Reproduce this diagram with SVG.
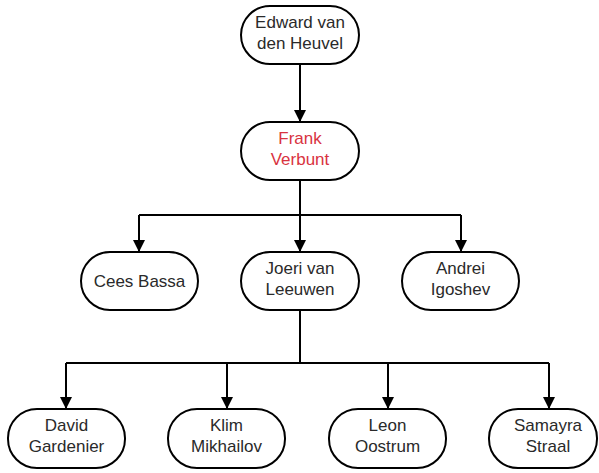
<svg xmlns="http://www.w3.org/2000/svg" width="599" height="473" viewBox="0 0 599 473">
<style>
.box{fill:#fff;stroke:#000;stroke-width:2}
.t{font-family:"Liberation Sans",Arial,sans-serif;font-size:17px;fill:#2a2a2a;text-anchor:middle}
.red{fill:#d9333f}
.c{fill:none;stroke:#000;stroke-width:2}
</style>
<defs>
<marker id="ah" markerWidth="12" markerHeight="14" refX="11" refY="6" orient="auto" markerUnits="userSpaceOnUse" viewBox="0 0 12 12">
<path d="M0,0 L12,6 L0,12 Z" fill="#000"/>
</marker>
</defs>
<rect width="599" height="473" fill="#fff"/>
<g id="connectors">
<path class="c" d="M300,64 V121" marker-end="url(#ah)"/>
<path class="c" d="M300,180 V251" marker-end="url(#ah)"/>
<path class="c" d="M139,215 H461"/>
<path class="c" d="M139,215 V251" marker-end="url(#ah)"/>
<path class="c" d="M461,215 V251" marker-end="url(#ah)"/>
<path class="c" d="M300,310 V363"/>
<path class="c" d="M66,363 H549"/>
<path class="c" d="M66,363 V408" marker-end="url(#ah)"/>
<path class="c" d="M227,363 V408" marker-end="url(#ah)"/>
<path class="c" d="M388,363 V408" marker-end="url(#ah)"/>
<path class="c" d="M549,363 V408" marker-end="url(#ah)"/>
</g>
<g id="edward"><rect class="box" x="241" y="6" width="118" height="58" rx="29"/><text class="t" x="300" y="28">Edward van</text><text class="t" x="300" y="49">den Heuvel</text></g>
<g id="frank"><rect class="box" x="241" y="122" width="118" height="58" rx="29"/><text class="t red" x="300" y="144">Frank</text><text class="t red" x="300" y="165">Verbunt</text></g>
<g id="cees"><rect class="box" x="81" y="252" width="117" height="58" rx="29"/><text class="t" x="139.5" y="287">Cees Bassa</text></g>
<g id="joeri"><rect class="box" x="241" y="252" width="118" height="58" rx="29"/><text class="t" x="300" y="274">Joeri van</text><text class="t" x="300" y="295">Leeuwen</text></g>
<g id="andrei"><rect class="box" x="402" y="252" width="117" height="58" rx="29"/><text class="t" x="460.5" y="274">Andrei</text><text class="t" x="460.5" y="295">Igoshev</text></g>
<g id="david"><rect class="box" x="8" y="409" width="117" height="59" rx="29"/><text class="t" x="66.5" y="431">David</text><text class="t" x="66.5" y="452">Gardenier</text></g>
<g id="klim"><rect class="box" x="168" y="409" width="117" height="59" rx="29"/><text class="t" x="226.5" y="431">Klim</text><text class="t" x="226.5" y="452">Mikhailov</text></g>
<g id="leon"><rect class="box" x="329" y="409" width="117" height="59" rx="29"/><text class="t" x="387.5" y="431">Leon</text><text class="t" x="387.5" y="452">Oostrum</text></g>
<g id="samayra"><rect class="box" x="489" y="409" width="108" height="59" rx="29"/><text class="t" x="548" y="431">Samayra</text><text class="t" x="548" y="452">Straal</text></g>
</svg>
